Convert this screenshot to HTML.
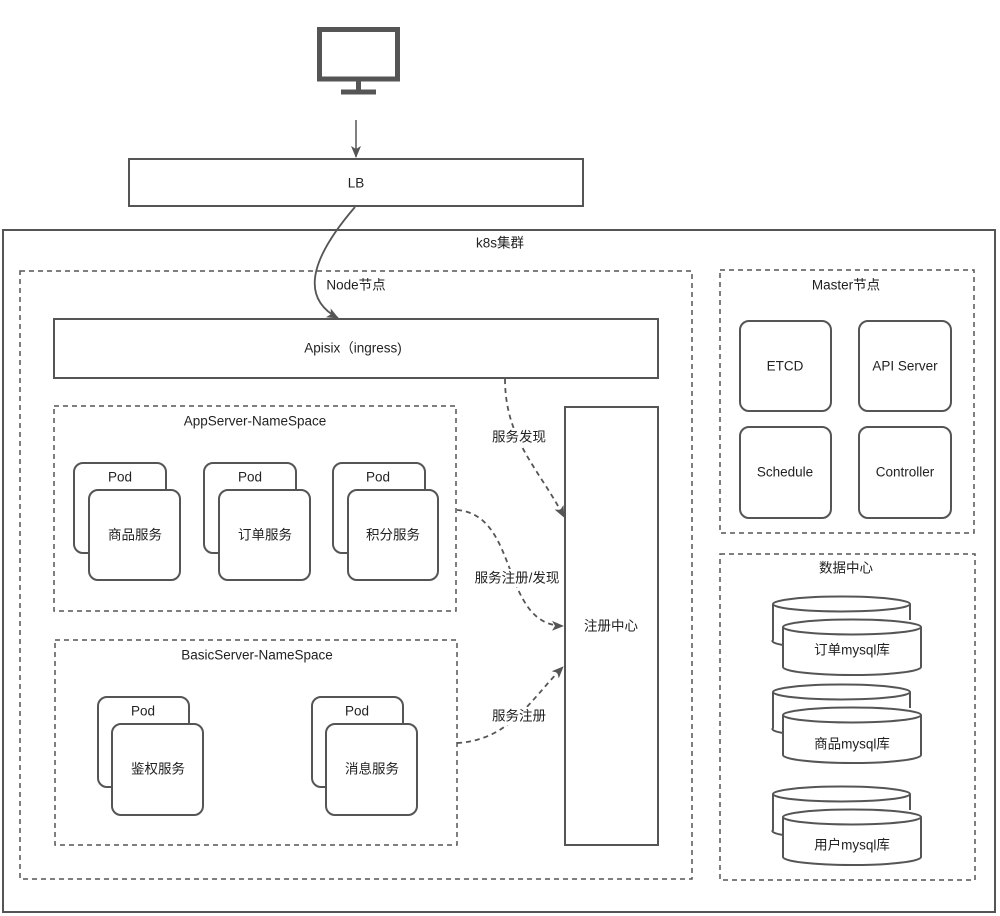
<!DOCTYPE html>
<html><head><meta charset="utf-8"><style>
html,body{margin:0;padding:0;background:#fff;}
svg{display:block;}
text{font-family:"Liberation Sans","Noto Sans CJK SC",sans-serif;font-size:13.5px;fill:#222;text-anchor:middle;dominant-baseline:central;}
</style></head><body>
<svg width="1000" height="916" viewBox="0 0 1000 916" xmlns="http://www.w3.org/2000/svg">
<defs>
<marker id="ah" markerWidth="12" markerHeight="12" refX="11" refY="6" orient="auto" markerUnits="userSpaceOnUse">
<path d="M0,1 L12,6 L0,11 L3,6 Z" fill="#555"/>
</marker>
</defs>
<g fill="none" stroke="#555" stroke-width="2">
<rect x="319.5" y="29.5" width="78" height="49.5" stroke-width="5"/>
<line x1="358.5" y1="81" x2="358.5" y2="91" stroke-width="5"/>
<line x1="341" y1="92" x2="376" y2="92" stroke-width="5"/>
<line x1="356" y1="120" x2="356" y2="157" stroke-width="1.5" marker-end="url(#ah)"/>
<rect x="129" y="159" width="454" height="47"/>
<rect x="3" y="230" width="992" height="682"/>
<rect x="20" y="271" width="672" height="608" stroke-dasharray="5,4" stroke-width="1.5"/>
<rect x="54" y="319" width="604" height="59"/>
<rect x="54" y="406" width="402" height="205" stroke-dasharray="5,4" stroke-width="1.5"/>
<rect x="74" y="463" width="92" height="90" rx="9"/>
<rect x="89" y="490" width="91" height="90" rx="9" fill="#fff"/>
<rect x="204" y="463" width="92" height="90" rx="9"/>
<rect x="219" y="490" width="91" height="90" rx="9" fill="#fff"/>
<rect x="333" y="463" width="92" height="90" rx="9"/>
<rect x="348" y="490" width="90" height="90" rx="9" fill="#fff"/>
<rect x="55" y="640" width="402" height="205" stroke-dasharray="5,4" stroke-width="1.5"/>
<rect x="98" y="697" width="91" height="90" rx="9"/>
<rect x="112" y="724" width="91" height="91" rx="9" fill="#fff"/>
<rect x="312" y="697" width="91" height="90" rx="9"/>
<rect x="326" y="724" width="91" height="91" rx="9" fill="#fff"/>
<rect x="565" y="407" width="93" height="438"/>
<rect x="720" y="270" width="254" height="263" stroke-dasharray="5,4" stroke-width="1.5"/>
<rect x="740" y="321" width="91" height="90" rx="9"/>
<rect x="859" y="321" width="92" height="90" rx="9"/>
<rect x="740" y="427" width="91" height="91" rx="9"/>
<rect x="859" y="427" width="92" height="91" rx="9"/>
<rect x="720" y="554" width="255" height="326" stroke-dasharray="5,4" stroke-width="1.5"/>
</g>
<g fill="#fff" stroke="#555" stroke-width="2">
<g>
<path d="M773,604 L773,640 A68,7.5 0 0 0 783,645 M910,604 L910,620"/>
<ellipse cx="841.5" cy="604" rx="68.5" ry="7.5"/>
<path d="M783,627 L783,667 A69,8 0 0 0 921,667 L921,627"/>
<ellipse cx="852" cy="627" rx="69" ry="7.5"/>
</g>
<g transform="translate(0,88)">
<path d="M773,604 L773,640 A68,7.5 0 0 0 783,645 M910,604 L910,620"/>
<ellipse cx="841.5" cy="604" rx="68.5" ry="7.5"/>
<path d="M783,627 L783,667 A69,8 0 0 0 921,667 L921,627"/>
<ellipse cx="852" cy="627" rx="69" ry="7.5"/>
</g>
<g transform="translate(0,190)">
<path d="M773,604 L773,640 A68,7.5 0 0 0 783,645 M910,604 L910,620"/>
<ellipse cx="841.5" cy="604" rx="68.5" ry="7.5"/>
<path d="M783,627 L783,667 A69,8 0 0 0 921,667 L921,627"/>
<ellipse cx="852" cy="627" rx="69" ry="7.5"/>
</g>
</g>
<g fill="none" stroke="#555" stroke-width="1.8">
<path d="M355,207 C318,250 295,295 338,318" marker-end="url(#ah)"/>
<path d="M505,379 C505,440 540,470 564,517" stroke-dasharray="5,4" marker-end="url(#ah)"/>
<path d="M457,510 C520,515 500,625 563,626" stroke-dasharray="5,4" marker-end="url(#ah)"/>
<path d="M457,743 C510,740 530,700 563,667" stroke-dasharray="5,4" marker-end="url(#ah)"/>
</g>
<g fill="#fff">
<rect x="490" y="428" width="60" height="18"/>
<rect x="476" y="569" width="84" height="18"/>
<rect x="490" y="707" width="60" height="18"/>
</g>
<text x="356" y="183">LB</text>
<text x="500" y="243">k8s集群</text>
<text x="356" y="285">Node节点</text>
<text x="353" y="348">Apisix（ingress)</text>
<text x="255" y="421">AppServer-NameSpace</text>
<text x="120" y="477">Pod</text>
<text x="250" y="477">Pod</text>
<text x="378" y="477">Pod</text>
<text x="135" y="535">商品服务</text>
<text x="265" y="535">订单服务</text>
<text x="393" y="535">积分服务</text>
<text x="257" y="655">BasicServer-NameSpace</text>
<text x="143" y="711">Pod</text>
<text x="357" y="711">Pod</text>
<text x="158" y="769">鉴权服务</text>
<text x="372" y="769">消息服务</text>
<text x="611" y="626">注册中心</text>
<text x="519" y="437">服务发现</text>
<text x="517" y="578">服务注册/发现</text>
<text x="519" y="716">服务注册</text>
<text x="846" y="285">Master节点</text>
<text x="785" y="366">ETCD</text>
<text x="905" y="366">API Server</text>
<text x="785" y="472">Schedule</text>
<text x="905" y="472">Controller</text>
<text x="846" y="568">数据中心</text>
<text x="852" y="650">订单mysql库</text>
<text x="852" y="744">商品mysql库</text>
<text x="852" y="845">用户mysql库</text>
</svg>
</body></html>
